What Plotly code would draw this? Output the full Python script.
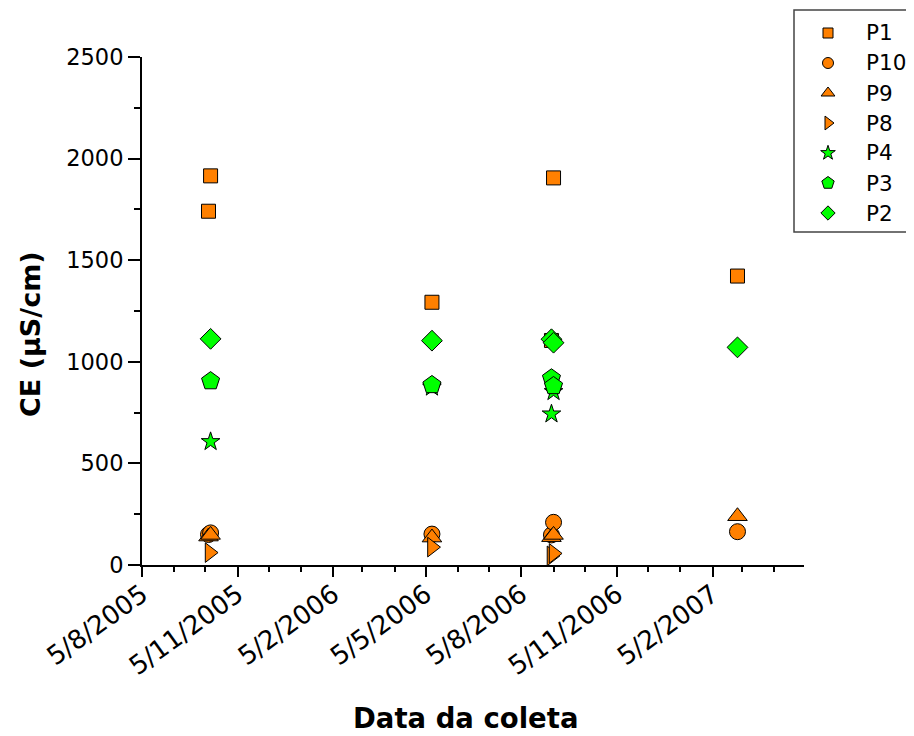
import plotly.graph_objects as go

# ---- data ----
series_names = ["P1", "P10", "P9", "P8", "P4", "P3", "P2"]

p1_dates = ["2005-10-10", "2005-10-08", "2006-05-11", "2006-09-05", "2006-09-03", "2007-03-01"]
p1_vals = [1915, 1741, 1293, 1905, 1105, 1422]

p10_dates = ["2005-10-08", "2005-10-10", "2006-05-11", "2006-09-03", "2006-09-05", "2007-03-01"]
p10_vals = [150, 158, 152, 148, 210, 164]

p9_dates = ["2005-10-08", "2005-10-10", "2006-05-11", "2006-09-03", "2006-09-05", "2007-03-01"]
p9_vals = [140, 148, 135, 137, 148, 240]

p8_dates = ["2005-10-09", "2006-05-11", "2006-09-03", "2006-09-05"]
p8_vals = [61, 88, 45, 57]

p4_dates = ["2005-10-10", "2006-05-11", "2006-09-03", "2006-09-05"]
p4_vals = [607, 875, 743, 853]

p3_dates = ["2005-10-10", "2006-05-11", "2006-09-03", "2006-09-05"]
p3_vals = [905, 886, 919, 881]

p2_dates = ["2005-10-10", "2006-05-11", "2006-09-03", "2006-09-05", "2007-03-01"]
p2_vals = [1113, 1104, 1111, 1094, 1071]

x_tick_dates = ["2005-08-05", "2005-11-05", "2006-02-05", "2006-05-05",
                "2006-08-05", "2006-11-05", "2007-02-05"]
x_tick_labels = ["5/8/2005", "5/11/2005", "5/2/2006", "5/5/2006",
                 "5/8/2006", "5/11/2006", "5/2/2007"]
y_tick_vals = [0, 500, 1000, 1500, 2000, 2500]

x_title = "Data da coleta"
y_title = "CE (μS/cm)"

# ---- style ----
ORANGE = "#FF8000"
GREEN = "#00FF00"
FONT = "DejaVu Sans, Arial, sans-serif"

styles = {
    "P1": dict(symbol="square", color=ORANGE, size=14, lsize=10),
    "P10": dict(symbol="circle", color=ORANGE, size=16, lsize=11),
    "P9": dict(symbol="triangle-up", color=ORANGE, size=17, lsize=12),
    "P8": dict(symbol="triangle-right", color=ORANGE, size=17, lsize=12),
    "P4": dict(symbol="star", color=GREEN, size=14, lsize=11),
    "P3": dict(symbol="pentagon", color=GREEN, size=19, lsize=13),
    "P2": dict(symbol="diamond", color=GREEN, size=16, lsize=11),
}

data = {
    "P1": (p1_dates, p1_vals),
    "P10": (p10_dates, p10_vals),
    "P9": (p9_dates, p9_vals),
    "P8": (p8_dates, p8_vals),
    "P4": (p4_dates, p4_vals),
    "P3": (p3_dates, p3_vals),
    "P2": (p2_dates, p2_vals),
}

# ---- geometry (page pixels; the page body adds an 8px offset) ----
OFF = 8
FIG_W, FIG_H = 906, 728


def fx(px):  # page x -> paper fraction (margins are zero)
    return (px - OFF) / FIG_W


def fy(py):  # page y -> paper fraction
    return 1 - (py - OFF) / FIG_H


PLOT_L, PLOT_R, PLOT_T, PLOT_B = 142, 804, 57, 565

fig = go.Figure()
for name in series_names:
    xs, ys = data[name]
    st = styles[name]
    fig.add_trace(go.Scatter(
        x=xs, y=ys, mode="markers", name=name, showlegend=False,
        marker=dict(symbol=st["symbol"], color=st["color"], size=st["size"],
                    opacity=1, line=dict(color="black", width=1)),
        hoverinfo="x+y+name",
    ))

# ---- hand-built legend (symbols on a full-page helper axis pair) ----
leg_rows = [33 + 30 * i for i in range(len(series_names))]
fig.add_trace(go.Scatter(
    x=[828] * len(series_names), y=leg_rows,
    xaxis="x2", yaxis="y2", mode="markers", showlegend=False,
    cliponaxis=False, hoverinfo="skip",
    marker=dict(symbol=[styles[n]["symbol"] for n in series_names],
                color=[styles[n]["color"] for n in series_names],
                size=[styles[n]["lsize"] for n in series_names],
                opacity=1, line=dict(color="black", width=1)),
))

annotations = []
for name, r in zip(series_names, leg_rows):
    annotations.append(dict(
        text=name, xref="paper", yref="paper", x=fx(864), y=fy(r),
        xanchor="left", yanchor="middle", showarrow=False,
        font=dict(family=FONT, size=21.5, color="black")))

annotations.append(dict(text="<b>" + x_title + "</b>", xref="paper", yref="paper",
                        x=fx(465), y=fy(718), xanchor="center", yanchor="middle",
                        showarrow=False, font=dict(family=FONT, size=27.5)))
annotations.append(dict(text="<b>" + y_title + "</b>", xref="paper", yref="paper",
                        x=fx(30), y=fy(334), xanchor="center", yanchor="middle",
                        textangle=-90, showarrow=False,
                        font=dict(family=FONT, size=27)))

shapes = [dict(type="rect", xref="paper", yref="paper",
               x0=fx(794), x1=fx(912), y0=fy(232), y1=fy(10),
               line=dict(color="#444444", width=1.5), fillcolor="rgba(0,0,0,0)")]

fig.update_layout(
    width=FIG_W, height=FIG_H,
    margin=dict(l=0, r=0, t=0, b=0),
    paper_bgcolor="white", plot_bgcolor="rgba(0,0,0,0)",
    font=dict(family=FONT, size=22, color="black"),
    showlegend=False,
    xaxis=dict(
        domain=[fx(PLOT_L), fx(PLOT_R)],
        type="date", automargin=False,
        range=["2005-08-05", "2007-05-04"],
        tickmode="array", tickvals=x_tick_dates, ticktext=x_tick_labels,
        tickangle=-36,
        ticks="outside", ticklen=10, tickwidth=2, tickcolor="black",
        showline=True, linecolor="black", linewidth=2,
        showgrid=False, zeroline=False,
        minor=dict(tick0="2005-08-05", dtick="M1", ticks="outside",
                   ticklen=5, tickwidth=2, tickcolor="black", showgrid=False),
        tickfont=dict(family=FONT, size=26),
        ticklabelstandoff=-8,
    ),
    yaxis=dict(
        domain=[fy(PLOT_B), fy(PLOT_T)],
        range=[0, 2500], automargin=False,
        tickmode="array", tickvals=y_tick_vals,
        ticks="outside", ticklen=12, tickwidth=2, tickcolor="black",
        showline=True, linecolor="black", linewidth=2,
        showgrid=False, zeroline=False,
        minor=dict(dtick=250, ticks="outside", ticklen=6, tickwidth=2,
                   tickcolor="black", showgrid=False),
        tickfont=dict(family=FONT, size=22.5),
    ),
    xaxis2=dict(domain=[0, 1], anchor="y2", range=[OFF, OFF + FIG_W],
                visible=False, fixedrange=True),
    yaxis2=dict(domain=[0, 1], anchor="x2", range=[OFF + FIG_H, OFF],
                visible=False, fixedrange=True),
    annotations=annotations,
    shapes=shapes,
)

fig.write_html("out.html")
